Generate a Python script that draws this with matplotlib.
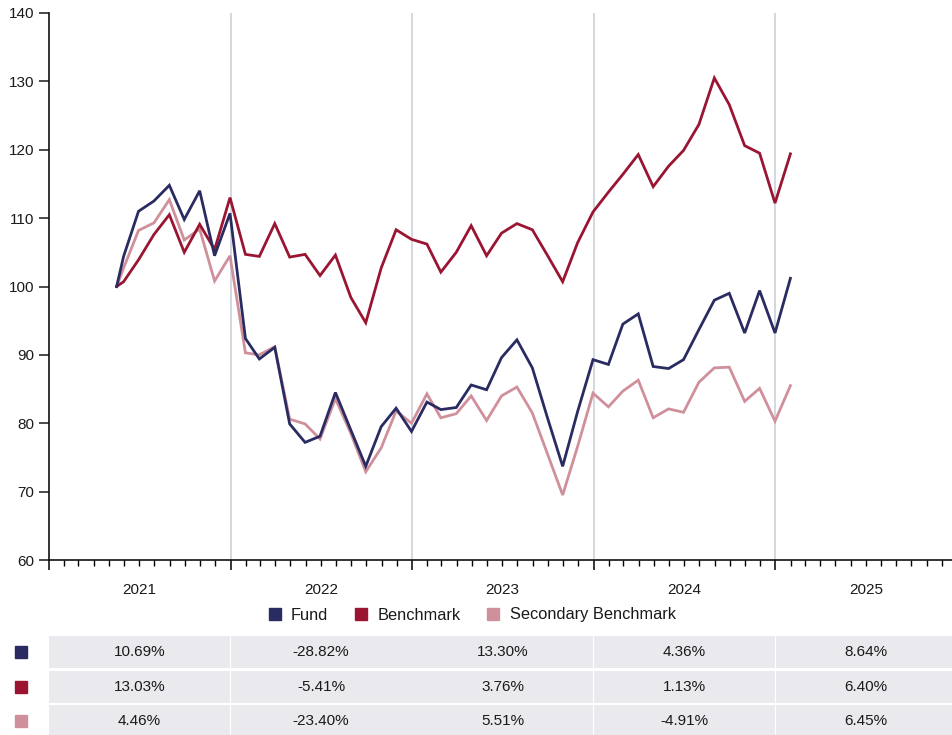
import matplotlib
matplotlib.use("Agg")
import matplotlib.pyplot as plt
import matplotlib.dates as mdates
from matplotlib.lines import Line2D
from matplotlib.patches import Rectangle
from matplotlib import transforms
import pandas as pd

plt.rcParams['font.family'] = ['Liberation Sans', 'DejaVu Sans']

# dates: inception then month ends
start_date = "2021-05-17"
month_ends = pd.date_range("2021-05-31", "2025-01-31", freq="ME")
dates = [pd.Timestamp(start_date)] + list(month_ends)

fund = [100.0, 104.4, 111.0, 112.5, 114.8, 109.8, 114.0, 104.5, 110.7,
        92.4, 89.4, 91.1, 79.9, 77.2, 78.1, 84.5, 79.0, 73.7, 79.5, 82.2, 78.8,
        83.1, 82.0, 82.3, 85.6, 84.9, 89.6, 92.2, 88.1, 80.9, 73.7, 81.7, 89.3,
        88.6, 94.5, 96.0, 88.3, 88.0, 89.3, 93.7, 98.0, 99.0, 93.2, 99.4, 93.2,
        101.2]
benchmark = [100.0, 100.7, 103.9, 107.6, 110.5, 105.0, 109.1, 105.4, 113.0,
             104.7, 104.4, 109.2, 104.3, 104.7, 101.6, 104.6, 98.4, 94.7, 102.7, 108.3, 106.9,
             106.2, 102.1, 105.0, 108.9, 104.5, 107.8, 109.2, 108.3, 104.6, 100.7, 106.4, 110.9,
             113.8, 116.4, 119.3, 114.6, 117.6, 119.9, 123.7, 130.5, 126.6, 120.6, 119.5, 112.2,
             119.4]
secondary = [100.0, 102.7, 108.2, 109.3, 112.7, 106.8, 108.4, 100.8, 104.5,
             90.3, 90.0, 91.2, 80.6, 79.9, 77.7, 83.6, 78.5, 72.9, 76.4, 81.8, 80.0,
             84.3, 80.8, 81.4, 84.0, 80.4, 84.0, 85.3, 81.5, 75.6, 69.5, 76.6, 84.4,
             82.4, 84.7, 86.3, 80.8, 82.1, 81.6, 86.0, 88.1, 88.2, 83.2, 85.1, 80.3,
             85.5]

years = [2021, 2022, 2023, 2024, 2025]
fund_ret = [10.69, -28.82, 13.30, 4.36, 8.64]
bench_ret = [13.03, -5.41, 3.76, 1.13, 6.40]
sec_ret = [4.46, -23.40, 5.51, -4.91, 6.45]

names = ["Fund", "Benchmark", "Secondary Benchmark"]
colors = ["#2a2c61", "#9a1531", "#d0909b"]
text_col = "#1a1a1a"

W, H = 952, 735
fig = plt.figure(figsize=(W / 100, H / 100), dpi=100)

# main chart, x axis runs to 2026 (a bit past right edge)
ax_left = 49 / W
ax_w = (957 - 49) / W
ax = fig.add_axes([ax_left, 1 - 560 / H, ax_w, (560 - 13) / H])

x0 = pd.Timestamp("2021-01-01")
x1 = pd.Timestamp("2026-01-01")
ax.set_xlim(x0, x1)
ax.set_ylim(60, 140)

# year gridlines
for y in years[1:]:
    ax.axvline(pd.Timestamp(f"{y}-01-01"), color="#cbd2d9", lw=1.2, zorder=0)

for vals, c in zip([fund, benchmark, secondary][::-1], colors[::-1]):
    ax.plot(dates, vals, color=c, lw=2.0, solid_joinstyle="miter", zorder=2)

for s in ["top", "right"]:
    ax.spines[s].set_visible(False)
for s in ["left", "bottom"]:
    ax.spines[s].set_linewidth(1.2)
    ax.spines[s].set_color("#111111")

ax.set_yticks(range(60, 141, 10))
ax.tick_params(axis="y", length=7.5, width=1.1, pad=3, labelsize=11, colors=text_col)

ax.xaxis.set_major_locator(mdates.YearLocator())
ax.xaxis.set_minor_locator(mdates.MonthLocator())
ax.xaxis.set_major_formatter(plt.NullFormatter())
ax.tick_params(axis="x", which="major", length=7.5, width=1.1)
ax.tick_params(axis="x", which="minor", length=4, width=1.0)

# year labels in middle of each year
lab_tr = transforms.offset_copy(ax.get_xaxis_transform(), fig=fig, y=-30, units="dots")
for y in years:
    ax.text(pd.Timestamp(f"{y}-07-02"), 0, str(y), transform=lab_tr,
            ha="center", va="center", fontsize=11, color=text_col)

# legend
handles = [Line2D([], [], ls="none", marker="s", markersize=8, color=c) for c in colors]
fig.legend(handles, names, loc="center", bbox_to_anchor=(471 / W, 1 - 615 / H),
           ncol=3, frameon=False, fontsize=11.8, handletextpad=0.5, columnspacing=1.5,
           handlelength=1.0, labelcolor=text_col)

# table of yearly returns
pitch = 34.7
ax_t = fig.add_axes([ax_left, (H - 636 - 3 * pitch) / H, ax_w, 3 * pitch / H])
ax_t.set_xlim(x0, x1)
ax_t.set_ylim(3, 0)
ax_t.axis("off")

one = pd.Timedelta(days=1)
rows = [fund_ret, bench_ret, sec_ret]
for r, vals in enumerate(rows):
    for y, v in zip(years, vals):
        a = pd.Timestamp(f"{y}-01-01")
        b = pd.Timestamp(f"{y + 1}-01-01")
        if y != years[0]:
            a = a + one
        b = b - one
        an, bn = mdates.date2num(a), mdates.date2num(b)
        ax_t.add_patch(Rectangle((an, r), bn - an, 0.92, color="#e9e9ee", lw=0))
        ax_t.text(mdates.date2num(pd.Timestamp(f"{y}-07-02")), r + 0.46, f"{v:.2f}%",
                  ha="center", va="center", fontsize=11, color=text_col)

# colour keys left of the table
tr = transforms.blended_transform_factory(fig.transFigure, ax_t.transData)
for r, c in enumerate(colors):
    ax_t.plot([21 / W], [r + 0.46], marker="s", markersize=8, color=c, ls="none",
              transform=tr, clip_on=False)

fig.savefig("out.png", dpi=100)
